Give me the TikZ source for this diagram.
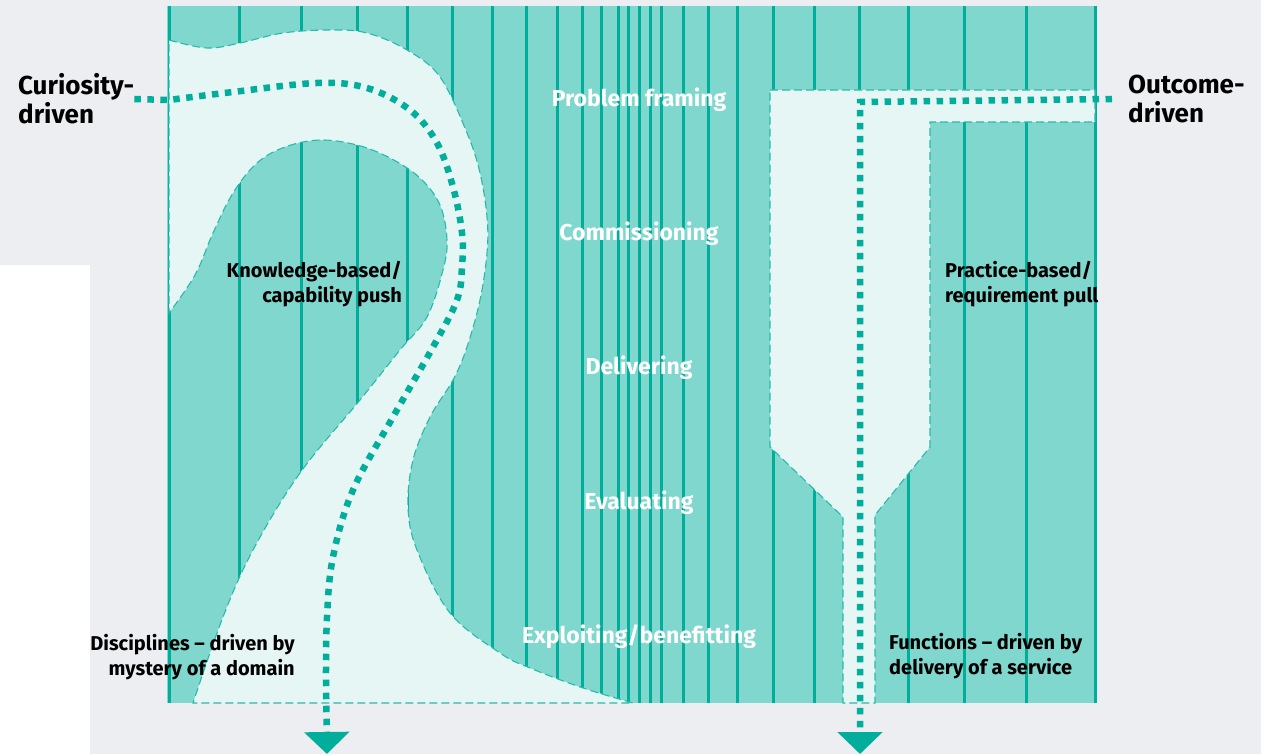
\documentclass[tikz,border=0pt]{standalone}
\usepackage{fontspec}
\setmainfont{Fira Sans}
\usetikzlibrary{arrows.meta}
\definecolor{bggray}{HTML}{ECEEF1}
\definecolor{tealfill}{HTML}{80D7CD}
\definecolor{tealline}{HTML}{00AE9B}
\definecolor{paleteal}{HTML}{E6F6F4}
\tikzset{
  stripe/.style={tealline, line width=3pt},
  lightzone/.style={fill=paleteal, draw=tealline!85, line width=1.1pt, dash pattern=on 8pt off 4pt},
  dotline/.style={tealline, line width=6.5pt, dash pattern=on 6.5pt off 6.5pt,
    -{Triangle[width=44pt,length=22pt]}},
  stagelbl/.style={text=white, font=\bfseries\fontsize{23}{26}\selectfont},
  sidelbl/.style={font=\bfseries\fontsize{26}{29}\selectfont, align=left, inner sep=0pt},
  notelbl/.style={font=\bfseries\fontsize{20}{25}\selectfont, inner sep=0pt},
}
\begin{document}
\begin{tikzpicture}[x=1pt, y=-1pt]
   \useasboundingbox (0,0) rectangle (1261,754);
   \fill[bggray] (0,0) rectangle (1261,754);
   \fill[white] (0,265) rectangle (90,754);

   % striped panel
   \fill[tealfill] (167,6) rectangle (1097,703);
   \foreach \sx in {169,239,301,357,407,452,492,526,557,582,601,618,628,639,650,
                    661,683,708,737,773,814,859,908,964,1026,1095}
     \draw[stripe] (\sx,6) -- (\sx,703);

   % curiosity-driven ribbon
   \draw[lightzone] (169,40) -- plot[smooth, tension=0.6] coordinates {
       (169,40) (207,48) (240,43) (283,33) (330,30) (367,33) (407,50) (440,77)
       (467,133) (480,173) (487,217) (487,253) (480,300) (467,347) (453,380)
       (430,417) (413,460) (408,507) (417,550) (450,613) (500,653) (530,668)
       (583,688) (633,703)}
     -- (193,703) -- plot[smooth, tension=0.6] coordinates {
       (193,703) (223,617) (253,550) (300,473) (360,400) (400,350) (427,317)
       (443,270) (447,240) (440,205) (420,178) (390,158) (357,145) (320,140)
       (285,147) (257,163) (233,193) (213,233) (195,275) (169,313)}
     -- cycle;

   % outcome-driven funnel
   \draw[lightzone] (770,90) -- (1095,90) -- (1095,122) -- (930,122) -- (930,447)
     -- (875,515) -- (875,703) -- (843,703) -- (843,517) -- (770,447) -- cycle;

   % stages
   \foreach \sy/\st/\sname in {100/Problem framing/framing,
                               234/Commissioning/commission,
                               368/Delivering/deliver,
                               503/Evaluating/evaluate,
                               637/Exploiting\slash benefitting/exploit}
     \node[stagelbl] (\sname) at (639,\sy) {\st};

   \node[sidelbl, anchor=west] (curio) at (18,99) {Curiosity-\\driven};
   \node[sidelbl, anchor=west] (outcome) at (1128,99) {Outcome-\\driven};

   \node[notelbl, align=right, anchor=east] (knowl) at (402,284) {Knowledge-based/\\capability push};
   \node[notelbl, align=left, anchor=west] (pract) at (945,284) {Practice-based/\\requirement pull};
   \node[notelbl, align=right, anchor=east] (discip) at (295,657) {Disciplines – driven by\\mystery of a domain};
   \node[notelbl, align=left, anchor=west] (funct) at (889,656) {Functions – driven by\\delivery of a service};

   \coordinate (pushend) at (327,754);
   \coordinate (pullend) at (860,754);

   \draw[dotline] (curio.east) -- plot[smooth, tension=0.6] coordinates {
       (169,100) (233,92) (317,83) (367,88) (410,110) (437,143) (453,187)
       (462,233) (462,267) (457,300) (433,347) (393,417) (353,490) (333,557)
       (327,617) (326,680)} -- (pushend);
   \draw[dotline] ([xshift=-16pt]outcome.west) -- (860,102) -- (pullend);
\end{tikzpicture}
\end{document}
